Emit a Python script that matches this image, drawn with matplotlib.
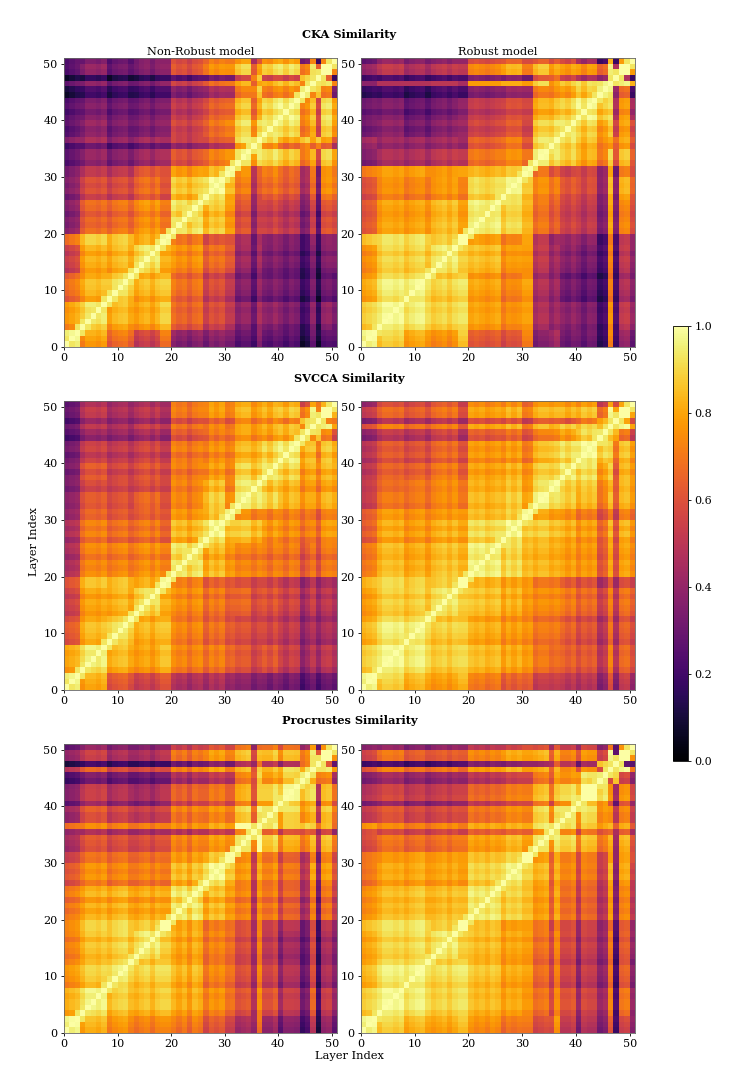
import numpy as np
import matplotlib
matplotlib.use("Agg")
import matplotlib.pyplot as plt

plt.rcParams['font.family'] = ['DejaVu Serif']

# groups of layers that share a similar level
edges = [0, 3, 8, 13, 18, 20, 26, 30, 32, 35, 37, 40, 44, 46, 47, 48, 50, 51]

# upper triangles of group-by-group similarity, read by eye
cka_plain = [
 [.95,.78,.68,.55,.70,.38,.35,.35,.27,.30,.27,.25,.12,.30,.10,.25,.28],
 [.90,.82,.80,.88,.65,.55,.50,.38,.37,.38,.33,.20,.38,.15,.38,.35],
 [.90,.83,.87,.68,.55,.50,.35,.32,.33,.30,.18,.33,.12,.30,.30],
 [.92,.82,.76,.65,.62,.42,.37,.35,.32,.20,.35,.15,.35,.38],
 [.98,.70,.58,.60,.45,.37,.38,.35,.22,.40,.18,.38,.40],
 [.92,.85,.78,.60,.47,.55,.50,.35,.55,.25,.60,.60],
 [.92,.82,.68,.52,.65,.60,.42,.65,.30,.72,.70],
 [.98,.75,.57,.72,.65,.45,.70,.32,.75,.72],
 [.93,.85,.90,.85,.70,.82,.55,.88,.80],
 [.93,.82,.72,.80,.72,.80,.70,.55],
 [.92,.90,.70,.82,.55,.88,.78],
 [.93,.72,.85,.55,.90,.80],
 [.95,.75,.88,.70,.35],
 [1.0,.70,.92,.75],
 [1.0,.62,.20],
 [.98,.75],
 [1.0]]
cka_robust = [
 [.97,.88,.80,.75,.87,.62,.58,.72,.35,.42,.32,.30,.17,.73,.20,.40,.30],
 [.95,.93,.88,.92,.78,.72,.78,.45,.40,.38,.33,.20,.75,.22,.50,.42],
 [.94,.88,.92,.78,.70,.78,.45,.40,.32,.27,.17,.70,.20,.45,.38],
 [.93,.88,.84,.75,.77,.50,.42,.38,.32,.22,.72,.22,.50,.40],
 [1.0,.78,.70,.80,.50,.40,.42,.38,.20,.70,.22,.50,.42],
 [.94,.88,.83,.68,.62,.55,.50,.35,.80,.35,.72,.60],
 [.92,.85,.72,.68,.60,.55,.38,.83,.35,.80,.65],
 [.98,.68,.60,.55,.55,.40,.80,.30,.70,.60],
 [.95,.90,.88,.80,.70,.90,.60,.85,.65],
 [.93,.90,.82,.72,.78,.65,.78,.62],
 [.93,.88,.78,.88,.55,.78,.60],
 [.93,.85,.90,.45,.75,.45],
 [.96,.95,.40,.65,.22],
 [1.0,.50,.95,.85],
 [1.0,.45,.20],
 [.98,.80],
 [1.0]]
# in this panel layer 46 reads lower as a row than as a column, groups 0..7
cka_robust_row46 = [.38, .48, .48, .50, .45, .78, .82, .78]
svcca_plain = [
 [.95,.80,.62,.55,.62,.47,.45,.42,.38,.35,.34,.32,.25,.32,.22,.30,.30],
 [.92,.82,.78,.85,.72,.68,.65,.60,.55,.60,.52,.40,.50,.40,.50,.48],
 [.90,.82,.85,.72,.65,.62,.58,.55,.55,.50,.40,.47,.38,.45,.45],
 [.90,.82,.75,.68,.65,.65,.58,.60,.55,.45,.55,.42,.50,.48],
 [.98,.72,.62,.62,.58,.55,.55,.50,.40,.50,.38,.45,.45],
 [.92,.82,.78,.72,.72,.70,.70,.62,.70,.58,.70,.72],
 [.92,.85,.85,.82,.75,.72,.68,.72,.62,.75,.78],
 [.98,.75,.72,.72,.72,.70,.70,.60,.72,.75],
 [.93,.92,.88,.82,.78,.80,.72,.82,.82],
 [.92,.85,.82,.75,.78,.68,.78,.78],
 [.90,.88,.78,.82,.72,.82,.82],
 [.93,.82,.85,.70,.85,.82],
 [.93,.78,.90,.72,.60],
 [1.0,.72,.95,.82],
 [1.0,.70,.72],
 [.98,.85],
 [1.0]]
svcca_robust = [
 [.97,.88,.83,.78,.84,.70,.62,.65,.52,.52,.50,.48,.38,.60,.35,.52,.42],
 [.95,.93,.87,.90,.83,.78,.78,.68,.65,.63,.60,.50,.72,.48,.65,.60],
 [.93,.87,.88,.80,.75,.76,.68,.68,.63,.58,.48,.68,.45,.62,.58],
 [.92,.88,.85,.80,.78,.73,.73,.70,.65,.55,.72,.50,.68,.65],
 [1.0,.82,.77,.78,.68,.68,.62,.58,.45,.62,.42,.58,.55],
 [.94,.88,.85,.82,.80,.78,.75,.62,.80,.58,.78,.75],
 [.92,.87,.85,.82,.80,.75,.65,.82,.58,.80,.75],
 [1.0,.80,.77,.76,.70,.60,.72,.52,.72,.68],
 [.95,.90,.87,.82,.70,.85,.62,.82,.78],
 [.95,.87,.85,.72,.82,.62,.82,.78],
 [.93,.90,.78,.88,.60,.82,.78],
 [.95,.88,.88,.68,.84,.78],
 [.95,.88,.82,.68,.55],
 [1.0,.78,.97,.82],
 [1.0,.78,.60],
 [.98,.82],
 [1.0]]
proc_plain = [
 [.97,.82,.76,.72,.75,.70,.60,.55,.45,.55,.42,.35,.22,.50,.12,.40,.30],
 [.93,.86,.84,.88,.80,.72,.68,.60,.60,.60,.50,.33,.65,.20,.52,.42],
 [.92,.88,.90,.82,.70,.68,.58,.58,.55,.45,.30,.58,.18,.45,.38],
 [.93,.88,.80,.70,.68,.58,.58,.52,.42,.30,.58,.18,.45,.38],
 [1.0,.80,.68,.68,.60,.58,.55,.48,.32,.58,.18,.50,.42],
 [.92,.82,.78,.72,.62,.70,.62,.45,.72,.30,.68,.55],
 [.92,.85,.75,.65,.72,.65,.48,.78,.35,.75,.60],
 [1.0,.75,.65,.70,.62,.48,.72,.32,.72,.58],
 [.93,.88,.88,.80,.72,.85,.48,.85,.72],
 [.93,.80,.72,.75,.75,.55,.70,.55],
 [.92,.88,.78,.85,.50,.85,.72],
 [.93,.85,.90,.45,.82,.68],
 [.96,.85,.70,.72,.45],
 [1.0,.75,.93,.80],
 [1.0,.60,.30],
 [.98,.78],
 [1.0]]
proc_robust = [
 [.97,.88,.83,.80,.86,.75,.68,.70,.58,.68,.52,.45,.35,.62,.20,.55,.40],
 [.95,.93,.88,.92,.83,.78,.76,.68,.65,.60,.52,.42,.72,.22,.68,.42],
 [.94,.90,.93,.85,.78,.78,.66,.62,.55,.48,.38,.68,.20,.62,.38],
 [.93,.88,.84,.78,.78,.68,.65,.57,.50,.40,.70,.22,.62,.42],
 [1.0,.85,.76,.78,.70,.62,.58,.52,.40,.66,.25,.62,.42],
 [.93,.87,.85,.78,.72,.68,.62,.48,.78,.35,.72,.52],
 [.92,.88,.82,.72,.72,.66,.52,.82,.35,.78,.55],
 [1.0,.78,.72,.72,.68,.55,.78,.40,.78,.62],
 [.93,.85,.90,.82,.70,.82,.42,.82,.62],
 [.93,.83,.75,.70,.75,.55,.72,.55],
 [.93,.88,.75,.75,.50,.72,.55],
 [.94,.88,.72,.40,.72,.55],
 [.95,.60,.88,.55,.40],
 [1.0,.30,.97,.72],
 [1.0,.25,.28],
 [.98,.78],
 [1.0]]

# per-layer stripes (layers 0..50), read by eye
cka_plain_str = [-.03,0,.03,-.04,.02,.02,0,.03,-.05,0,.02,.03,-.03,-.04,0,.02,-.03,.02,0,0,
                 .02,-.02,0,-.05,0,.02,-.03,.04,.01,.04,0,0,-.02,.02,.02,-.08,.08,.0,-.02,.03,
                 .03,-.02,.03,.0,-.02,.02,0,0,0,.02,-.02]
cka_robust_str = [-.02,0,.02,-.02,.02,.02,0,.02,-.03,0,.02,.03,-.03,-.02,.0,.02,-.02,.02,0,0,
                  .0,.02,0,-.02,0,.02,-.02,.03,.02,.03,0,0,-.02,.02,.02,-.02,.03,0,-.03,.02,
                  .03,-.03,.03,.02,-.02,.02,0,0,0,.02,-.02]
svcca_plain_str = [-.02,0,.02,-.03,.02,.02,0,.03,-.03,0,.02,.03,-.03,-.03,0,.02,-.03,.02,0,0,
                   .02,-.01,.01,-.05,0,.02,-.03,.04,.0,.04,-.02,0,.0,.02,.02,-.02,.02,.02,-.03,.03,
                   .02,-.03,.03,.01,-.04,.02,0,0,0,.02,-.02]
svcca_robust_str = [-.02,0,.02,-.02,.02,.02,0,.02,-.03,0,.02,.03,-.03,-.02,.0,.02,-.02,.02,0,0,
                    .02,0,.02,-.02,0,.02,-.02,.04,.0,.04,-.02,0,-.01,.02,.02,.0,.02,.02,-.02,.02,
                    -.03,.03,.0,.03,-.03,.02,0,0,0,.02,-.02]
proc_plain_str = [-.02,0,.02,-.03,.02,.02,0,.03,-.04,.0,.02,.03,-.03,-.03,0,.02,-.03,.02,0,0,
                  .02,-.02,.02,-.05,.03,.0,-.03,.04,.01,.04,-.01,0,-.02,.0,.02,-.14,.14,-.02,-.02,.03,
                  -.08,.03,.03,.02,-.03,.02,0,0,0,.02,-.02]
proc_robust_str = [-.02,0,.02,-.02,.02,.02,0,.02,-.03,0,.02,.03,-.03,-.02,0,.02,-.02,.02,0,0,
                   .02,-.01,.01,-.02,.02,0,-.02,.03,.01,.03,0,0,-.02,.0,.02,-.09,.09,-.01,-.01,.02,
                   -.12,.05,.03,.03,-.02,.02,0,0,0,.02,-.02]

suptitles = ["CKA Similarity", "SVCCA Similarity", "Procrustes Similarity"]
col_titles = ["Non-Robust model", "Robust model"]
panels = [[(cka_plain, cka_plain_str), (cka_robust, cka_robust_str)],
          [(svcca_plain, svcca_plain_str), (svcca_robust, svcca_robust_str)],
          [(proc_plain, proc_plain_str), (proc_robust, proc_robust_str)]]
tick_vals = [0, 10, 20, 30, 40, 50]
cbar_ticks = [0.0, 0.2, 0.4, 0.6, 0.8, 1.0]
near_diag_value = 0.93


def build(tri, stripes):
    n = edges[-1]
    m = np.zeros((n, n))
    for a, row in enumerate(tri):
        for k, v in enumerate(row):
            b = a + k
            m[edges[a]:edges[a + 1], edges[b]:edges[b + 1]] = v
            m[edges[b]:edges[b + 1], edges[a]:edges[a + 1]] = v
    s = np.array(stripes)
    m = m + s[:, None] + s[None, :]
    for i in range(n - 1):
        m[i, i + 1] = m[i + 1, i] = max(m[i, i + 1], near_diag_value)
    np.fill_diagonal(m, 1.0)
    return np.clip(m, 0, 1)


W, H = 747, 1087
fig = plt.figure(figsize=(W / 100, H / 100), dpi=100)


def axpx(x0, y0, x1, y1):
    return fig.add_axes([x0 / W, 1 - y1 / H, (x1 - x0) / W, (y1 - y0) / H])


xs = [(64, 337), (361, 635)]
ys = [(58, 347), (401, 690), (744, 1033)]
title_y = [35, 378, 721]
im = None
for r, (y0, y1) in enumerate(ys):
    for c, (x0, x1) in enumerate(xs):
        ax = axpx(x0, y0, x1, y1)
        tri, st = panels[r][c]
        mat = build(tri, st)
        if r == 0 and c == 1:
            for g, v in enumerate(cka_robust_row46):
                mat[46, edges[g]:edges[g + 1]] = v
        im = ax.imshow(mat, origin='lower', cmap='inferno', vmin=0, vmax=1,
                       extent=[0, edges[-1], 0, edges[-1]], aspect='auto',
                       interpolation='nearest')
        ax.set_xticks(tick_vals)
        ax.set_yticks(tick_vals)
        ax.tick_params(labelsize=8, length=2.5, width=0.6, pad=2)
        for sp in ax.spines.values():
            sp.set_linewidth(0.6)
            sp.set_color('#666666')
        if r == 0:
            ax.set_title(col_titles[c], fontsize=8.2, pad=2.5)
    fig.text(349.5 / W, 1 - title_y[r] / H, suptitles[r], fontsize=8.2, fontweight='bold',
             ha='center', va='center')

fig.text(349.5 / W, 1 - 1056 / H, "Layer Index", fontsize=8.2, ha='center', va='center')
fig.text(34 / W, 1 - 542 / H, "Layer Index", fontsize=8.2, rotation=90, ha='center', va='center')

cax = axpx(673, 326, 688, 761)
cb = fig.colorbar(im, cax=cax)
cb.set_ticks(cbar_ticks)
cb.ax.tick_params(labelsize=8, length=2.5, width=0.6, pad=2)
cb.outline.set_linewidth(0.6)

fig.savefig("out.png", dpi=100)
